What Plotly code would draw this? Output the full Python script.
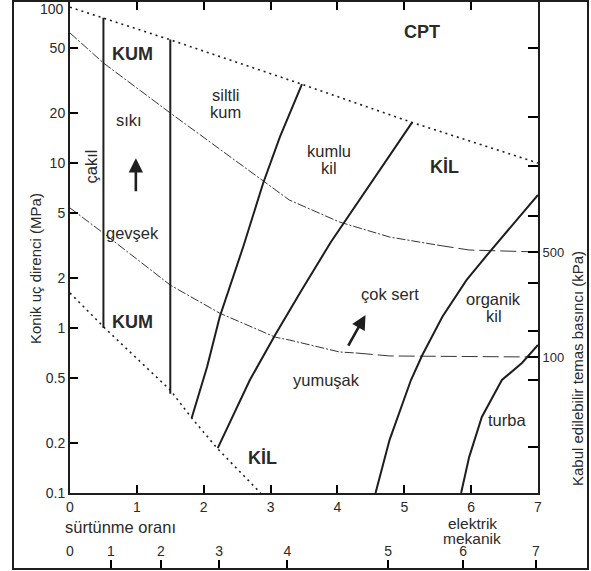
import math
import plotly.graph_objects as go

# ---------------- data (friction ratio %, cone resistance MPa) ----------------
upper_dot_x = [0, 1.49, 3.47, 5.1, 7]
upper_dot_y = [88, 56, 30, 17.7, 10]
lower_dot_x = [0, 0.52, 1.5, 1.82, 2.2, 2.85]
lower_dot_y = [1.63, 1.0, 0.42, 0.285, 0.187, 0.1]

kum_left_x = [0.5, 0.5]
kum_left_y = [76, 1.0]
kum_right_x = [1.5, 1.5]
kum_right_y = [56, 0.4]

siltli_x = [1.82, 2.05, 2.24, 2.59, 2.89, 3.14, 3.47]
siltli_y = [0.285, 0.58, 1.17, 3.1, 7.57, 14.4, 30.1]
kumlu_x = [2.21, 2.69, 3.07, 3.45, 3.9, 4.37, 4.75, 5.12]
kumlu_y = [0.187, 0.484, 0.91, 1.66, 3.31, 6.3, 10.5, 17.7]
organik_x = [4.57, 4.78, 5.1, 5.27, 5.57, 5.93, 6.3, 7.0]
organik_y = [0.1, 0.21, 0.484, 0.686, 1.17, 1.95, 2.97, 6.4]
turba_x = [5.85, 5.97, 6.16, 6.46, 6.76, 7.0]
turba_y = [0.1, 0.165, 0.289, 0.484, 0.614, 0.789]

sert_x = [0, 0.5, 1.5, 2.88, 3.28, 4.03, 4.78, 5.5]
sert_y = [61.4, 40.4, 20.1, 7.9, 5.97, 4.39, 3.56, 3.18]
sert_tail_x = [5.5, 5.97, 7]
sert_tail_y = [3.18, 2.97, 2.89]
yumusak_x = [0, 0.5, 1.5, 2.24, 3.07, 3.28, 4.03, 4.29]
yumusak_y = [5.34, 3.76, 1.82, 1.23, 0.88, 0.846, 0.716, 0.705]
yumusak_tail_x = [4.29, 4.78, 7]
yumusak_tail_y = [0.705, 0.677, 0.667]

# tick labels
x_ticks = [0, 1, 2, 3, 4, 5, 6, 7]
y_ticks = [0.1, 0.2, 0.5, 1, 2, 5, 10, 20, 50]
y_ticktext = ["0.1", "0.2", "0.5", "1", "2", "5", "10", "20", "50"]
mech_tick_pos = [0, 0.61, 1.36, 2.23, 3.25, 4.76, 5.88, 6.97]
mech_tick_text = ["0", "1", "2", "3", "4", "5", "6", "7"]
kpa_tick_pos = [50, 19, 9.6, 4.77, 2.89, 1.87, 0.96, 0.667, 0.484, 0.19]
kpa_tick_text = ["", "", "", "", "500", "", "", "100", "", ""]

# region labels: (text, x, qc, bold, angle)
labels = [
    ("CPT", 5.27, 62, True, 0),
    ("KUM", 0.93, 45.8, True, 0),
    ("sıkı", 0.88, 18.2, False, 0),
    ("siltli", 2.33, 26.0, False, 0),
    ("kum", 2.33, 20.3, False, 0),
    ("çakıl", 0.31, 9.5, False, -90),
    ("gevşek", 0.94, 3.76, False, 0),
    ("KUM", 0.93, 1.09, True, 0),
    ("kumlu", 3.88, 11.9, False, 0),
    ("kil", 3.88, 9.3, False, 0),
    ("KİL", 5.6, 9.46, True, 0),
    ("çok sert", 4.78, 1.61, False, 0),
    ("organik", 6.34, 1.5, False, 0),
    ("kil", 6.34, 1.19, False, 0),
    ("yumuşak", 3.84, 0.484, False, 0),
    ("turba", 6.54, 0.277, False, 0),
    ("KİL", 2.88, 0.163, True, 0),
]
# arrows: (tail x, tail qc, head x, head qc)
arrows = [(0.985, 6.6, 0.985, 10.7), (4.15, 0.767, 4.42, 1.2)]

FONT = "Arial, Liberation Sans, sans-serif"
INK = "#1e1e1e"
TXT = "#2a2a2a"

fig = go.Figure()

def line(x, y, width, dash="solid"):
    fig.add_trace(go.Scatter(x=x, y=y, mode="lines", showlegend=False, hoverinfo="skip",
                             line=dict(color=INK, width=width, dash=dash)))

line(upper_dot_x, upper_dot_y, 1.6, "2px,4px")
line(lower_dot_x, lower_dot_y, 1.6, "2px,4px")
line(kum_left_x, kum_left_y, 2)
line(kum_right_x, kum_right_y, 2)
line(siltli_x, siltli_y, 2)
line(kumlu_x, kumlu_y, 2)
line(organik_x, organik_y, 2)
line(turba_x, turba_y, 2)
line(sert_x, sert_y, 0.9, "9px,2px,2px,2px")
line(sert_tail_x, sert_tail_y, 0.9, "16px,5px")
line(yumusak_x, yumusak_y, 0.9, "9px,2px,2px,2px")
line(yumusak_tail_x, yumusak_tail_y, 0.9, "16px,5px")

# invisible traces to attach the extra axes
fig.add_trace(go.Scatter(x=[None], y=[None], xaxis="x3", yaxis="y3", showlegend=False))
fig.add_trace(go.Scatter(x=[None], y=[None], xaxis="x", yaxis="y2", showlegend=False))

annotations = []
for text, x, q, bold, ang in labels:
    annotations.append(dict(
        x=x, y=math.log10(q), xref="x", yref="y", showarrow=False,
        xanchor="center", yanchor="middle",
        text=f"<b>{text}</b>" if bold else text, textangle=ang,
        font=dict(family=FONT, size=18 if bold else 16.5, color=TXT)))
for tx, tq, hx, hq in arrows:
    annotations.append(dict(
        x=hx, y=math.log10(hq), ax=tx, ay=math.log10(tq), xref="x", yref="y",
        axref="x", ayref="y", text="", showarrow=True, arrowhead=2, arrowsize=1.1,
        arrowwidth=2.6, arrowcolor=INK))

# paper-coordinate helpers (plot x: 70..538 px, paper y: 2..568 px)
def px_x(p):
    return (p - 70) / 468.0

def px_y(p):
    return (568 - p) / 566.0

def paper_text(text, xp, yp, size, xanchor="center", angle=0):
    return dict(x=px_x(xp), y=px_y(yp), xref="paper", yref="paper", text=text,
                showarrow=False, xanchor=xanchor, yanchor="middle", textangle=angle,
                font=dict(family=FONT, size=size, color=TXT))

annotations += [
    paper_text("100", 66, 9, 14, xanchor="right"),
    paper_text("Konik uç direnci (MPa)", 35, 269, 15, angle=-90),
    paper_text("Kabul edilebilir temas basıncı (kPa)", 578, 369, 15, angle=-90),
    paper_text("sürtünme oranı", 63, 527, 16.5, xanchor="left"),
    paper_text("elektrik", 472, 523, 15.5),
    paper_text("mekanik", 472, 538, 15.5),
]

yr = [-1, 1.976]
ydom = [px_y(493), 1]

common = dict(showgrid=False, zeroline=False, automargin=False)
tick = dict(tickcolor="#000000", tickwidth=2)

fig.update_layout(
    template="none",
    width=591, height=571,
    margin=dict(l=70, r=53, t=2, b=3, pad=0),
    paper_bgcolor="white", plot_bgcolor="white",
    font=dict(family=FONT, color=TXT),
    showlegend=False,
    xaxis=dict(range=[0, 7], tickmode="array", tickvals=x_ticks, ticks="inside", ticklen=8,
               mirror="ticks", showline=True, linewidth=2, linecolor=INK,
               tickfont=dict(size=14), anchor="y", **tick, **common),
    yaxis=dict(type="log", range=yr, domain=ydom, tickmode="array", tickvals=y_ticks,
               ticktext=y_ticktext, ticks="inside", ticklen=8, showline=True,
               linewidth=2, linecolor=INK,
               tickfont=dict(size=14), anchor="x", **tick, **common),
    yaxis2=dict(type="log", range=yr, domain=ydom, overlaying="y", side="right", anchor="x",
                tickmode="array", tickvals=kpa_tick_pos, ticktext=kpa_tick_text,
                ticks="inside", ticklen=10,
                showline=True, linewidth=2, linecolor=INK,
                tickfont=dict(size=13), **tick, **common),
    # small strip under the chart carrying the mechanical friction-ratio scale
    xaxis3=dict(range=[0, 7], domain=[0, 1], side="top", anchor="y3", tickmode="array",
                tickvals=mech_tick_pos, ticktext=mech_tick_text, ticks="inside", ticklen=8,
                showline=False, tickfont=dict(size=14), **tick, **common),
    yaxis3=dict(domain=[0, px_y(560)], range=[0, 1], visible=False, anchor="x3",
                showgrid=False, zeroline=False),
    annotations=annotations,
    shapes=[dict(type="rect", xref="paper", yref="paper", x0=px_x(13), x1=px_x(588),
                 y0=px_y(569), y1=px_y(1), line=dict(color=INK, width=2))],
)

fig.write_html("out.html", config={"displayModeBar": False},
               post_script="document.body.style.margin='0px';document.body.style.overflow='hidden';")
